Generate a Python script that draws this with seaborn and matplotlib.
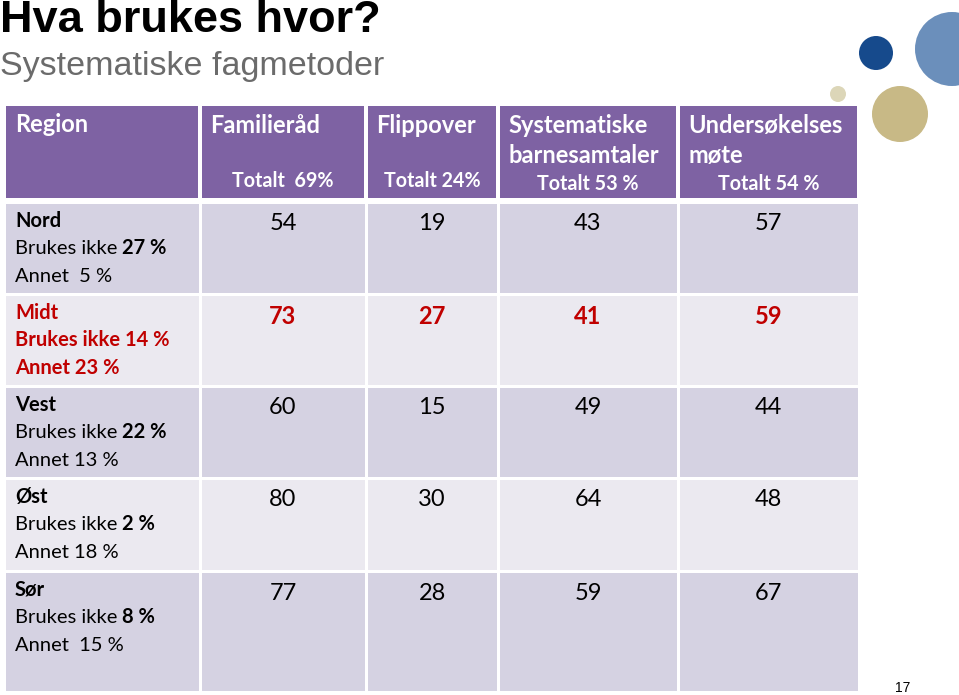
import numpy as np
import seaborn as sns
import matplotlib.pyplot as plt
from matplotlib.colors import ListedColormap
from matplotlib.patches import Circle

# data
regions = ['Nord', 'Midt', 'Vest', 'Øst', 'Sør']
brukes_ikke = [27, 14, 22, 2, 8]
annet_labels = ['Annet  5 %', 'Annet 23 %', 'Annet 13 %', 'Annet 18 %', 'Annet  15 %']
methods = ['Familieråd', 'Flippover', 'Systematiske\nbarnesamtaler', 'Undersøkelses\nmøte']
totals = ['Totalt  69%', 'Totalt 24%', 'Totalt 53 %', 'Totalt 54 %']
familierad = [54, 73, 60, 80, 77]
flippover = [19, 27, 15, 30, 28]
barnesamtaler = [43, 41, 49, 64, 59]
undersokelse = [57, 59, 44, 48, 67]
highlight = 'Midt'

values = np.array([familierad, flippover, barnesamtaler, undersokelse]).T

sns.set_theme(style='white')
plt.rcParams['font.family'] = ['Lato', 'DejaVu Sans']

purple = '#7E62A3'
dark_row = '#D5D2E2'
light_row = '#EBE9F0'
red = '#C00000'

fig = plt.figure(figsize=(9.59, 6.95), dpi=100)
ax = fig.add_axes([0, 0, 1, 1])
ax.set_xlim(0, 959)
ax.set_ylim(695, 0)
ax.axis('off')
renderer = fig.canvas.get_renderer()

col_edges = np.array([4, 200, 366, 498, 678, 859])
row_edges = np.array([202, 294, 386, 478, 571, 692])
head_edges = np.array([104, 200])

# header band
ax.pcolormesh(col_edges, head_edges, np.zeros((1, 5)),
              cmap=ListedColormap([purple]), edgecolors='white', linewidth=1.5)

# body rows, alternating shade
parity = np.array([[i % 2] * 5 for i in range(len(regions))])
body_cmap = ListedColormap(sns.color_palette([dark_row, light_row]))
ax.pcolormesh(col_edges, row_edges, parity, cmap=body_cmap,
              edgecolors='white', linewidth=2, vmin=0, vmax=1)

# header text
ax.text(col_edges[0] + 11, 125, 'Region', color='white', fontsize=17,
        fontweight='bold', va='center', ha='left')
total_y = [181, 181, 184, 184]
for j, (m, t) in enumerate(zip(methods, totals)):
    x0 = col_edges[j + 1]
    xc = (col_edges[j + 1] + col_edges[j + 2]) / 2
    ax.text(x0 + 10, 114, m, color='white', fontsize=17, fontweight='bold',
            va='top', ha='left', linespacing=1.35)
    ax.text(xc, total_y[j], t, color='white', fontsize=14.2, fontweight='bold',
            va='center', ha='center')

# body text
for i, reg in enumerate(regions):
    top = row_edges[i]
    hl = reg == highlight
    c = red if hl else '#000000'
    w_norm = 'bold' if hl else 'normal'
    ax.text(15, top + 25, reg, color=c, fontsize=14.5, fontweight='bold',
            va='baseline', ha='left')
    t = ax.text(15, top + 52, 'Brukes ikke ', color=c, fontsize=14.5,
                fontweight=w_norm, va='baseline', ha='left')
    bb = t.get_window_extent(renderer).transformed(ax.transData.inverted())
    ax.text(bb.x1, top + 52, f'{brukes_ikke[i]} %', color=c,
            fontsize=14.5, fontweight='bold', va='baseline', ha='left')
    ax.text(15, top + 80, annet_labels[i], color=c, fontsize=14.5,
            fontweight=w_norm, va='baseline', ha='left')
    for j in range(values.shape[1]):
        xc = (col_edges[j + 1] + col_edges[j + 2]) / 2
        ax.text(xc, top + 22, str(values[i, j]), color=c, fontsize=17,
                fontweight='bold' if hl else 'normal', va='center', ha='center')

# titles
ax.text(0, 20, 'Hva brukes hvor?', fontsize=32.5, fontweight='bold',
        family='Liberation Sans', color='black', va='center', ha='left')
ax.text(0, 67, 'Systematiske fagmetoder', fontsize=24.5,
        family='Liberation Sans', color='#6B6B6B', va='center', ha='left')

# decorative circles
for (cx, cy, r, col) in [(876, 53, 17, '#164A8C'), (952, 49, 37, '#6B8FBB'),
                         (900, 114, 28, '#C8B986'), (838, 94, 8, '#DCD6B8')]:
    ax.add_patch(Circle((cx, cy), r, color=col, lw=0, clip_on=False))

ax.text(903, 688, '17', fontsize=10, family='Liberation Sans',
        color='black', va='center', ha='center')

fig.savefig('out.png', dpi=100)
